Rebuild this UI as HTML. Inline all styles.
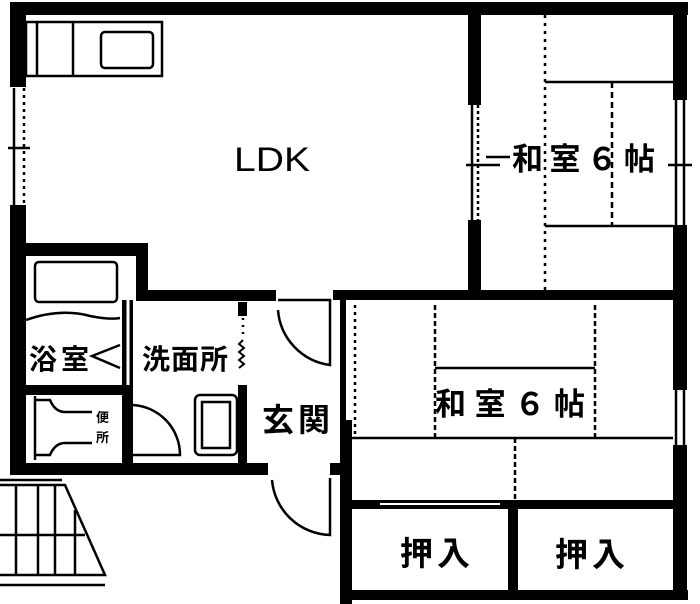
<!DOCTYPE html>
<html><head><meta charset="utf-8"><style>
html,body{margin:0;padding:0;background:#fff;width:700px;height:604px;overflow:hidden}
text{font-family:"Liberation Sans","Noto Sans CJK JP",sans-serif;font-weight:bold;fill:#000}
</style></head><body>
<svg width="700" height="604" viewBox="0 0 700 604" xmlns="http://www.w3.org/2000/svg">
<g fill="#000">
<rect x="10" y="2" width="678" height="13"/>
<rect x="10" y="2" width="16" height="85"/>
<rect x="10" y="205" width="16" height="270"/>
<rect x="673" y="2" width="14" height="98"/>
<rect x="673" y="225" width="14" height="76"/>
<rect x="673" y="300" width="14" height="90"/>
<rect x="673" y="445" width="14" height="155"/>
<rect x="468" y="15" width="13" height="90"/>
<rect x="468" y="220" width="13" height="75"/>
<rect x="136" y="290" width="140" height="11"/>
<rect x="333" y="290" width="354" height="10"/>
<rect x="10" y="243" width="138" height="13"/>
<rect x="136" y="243" width="12" height="58"/>
<rect x="122" y="300" width="11" height="165"/>
<rect x="26" y="385" width="105" height="10"/>
<rect x="10" y="463" width="258" height="12"/>
<rect x="330" y="463" width="22" height="12"/>
<rect x="238" y="385" width="9" height="80"/>
<rect x="238" y="302" width="9" height="14"/>
<rect x="340" y="420" width="12" height="184"/>
<rect x="340" y="300" width="6" height="125"/>
<rect x="352" y="500" width="321" height="9"/>
<rect x="508" y="505" width="10" height="90"/>
<rect x="340" y="590" width="348" height="10"/>
</g>
<g fill="none" stroke="#000" stroke-width="2.5">
<line x1="14" y1="88" x2="14" y2="205"/><line x1="24" y1="88" x2="24" y2="205" stroke-dasharray="3 4"/>
<line x1="8" y1="148" x2="30" y2="148"/>
<line x1="472" y1="105" x2="472" y2="220"/><line x1="478" y1="105" x2="478" y2="220" stroke-dasharray="3 3"/>
<line x1="466" y1="165" x2="500" y2="165"/>
<line x1="676" y1="100" x2="676" y2="225"/><line x1="684" y1="100" x2="684" y2="225"/>
<line x1="668" y1="165" x2="692" y2="165"/>
<line x1="676" y1="390" x2="676" y2="445"/><line x1="684" y1="390" x2="684" y2="445"/>
<line x1="18" y1="330" x2="18" y2="345"/><line x1="18" y1="418" x2="18" y2="432"/>
<rect x="26" y="22" width="136" height="54"/>
<line x1="37" y1="22" x2="37" y2="76"/><line x1="73" y1="22" x2="73" y2="76"/>
<rect x="101" y="32" width="52" height="36" rx="4"/>
<line x1="545" y1="15" x2="545" y2="290" stroke-dasharray="3 5"/>
<line x1="545" y1="82" x2="673" y2="82"/>
<line x1="545" y1="226" x2="673" y2="226"/>
<line x1="612" y1="82" x2="612" y2="226" stroke-dasharray="6 4"/>
<line x1="355" y1="305" x2="355" y2="438" stroke-dasharray="3 4"/>
<line x1="435" y1="305" x2="435" y2="438" stroke-dasharray="5 3"/>
<line x1="595" y1="305" x2="595" y2="438" stroke-dasharray="5 3"/>
<line x1="435" y1="368" x2="595" y2="368"/>
<line x1="352" y1="438" x2="673" y2="438"/>
<line x1="515" y1="438" x2="515" y2="500" stroke-dasharray="5 3"/>
<line x1="380" y1="504" x2="500" y2="504" stroke="#fff" stroke-width="2"/>
<rect x="35" y="262" width="82" height="40" rx="4"/>
<path d="M26 320 Q60 308 90 316 Q110 320 120 318"/>
<path d="M120 345 L92 356 L120 368"/>
<line x1="128" y1="300" x2="128" y2="385" stroke="#fff" stroke-width="3"/>
<path d="M35 400 L50 400 Q55 412 65 412 L92 412"/>
<path d="M35 455 L50 455 Q55 443 65 443 L92 443"/>
<line x1="35" y1="396" x2="35" y2="460"/>
<path d="M133 405 A50 50 0 0 1 180 455 L133 455"/>
<rect x="195" y="395" width="42" height="60" rx="5"/>
<rect x="202" y="402" width="28" height="46"/>
<path d="M243 340 l-4 4 l5 4 l-5 4 l5 4 l-5 4 l5 4 l-5 4" stroke-width="2"/>
<line x1="243" y1="318" x2="243" y2="338" stroke-dasharray="2 5"/>
<path d="M278 300 L330 300 L330 365 A60 60 0 0 1 278 310"/>
<path d="M272 480 A60 60 0 0 0 330 535 L330 478"/>
<line x1="275" y1="468" x2="330" y2="468" stroke="#fff" stroke-width="3"/>
<path d="M0 485 L65 485 L105 575 L0 575"/>
<path d="M0 480 L62 480"/>
<line x1="16" y1="485" x2="16" y2="575"/><line x1="38" y1="485" x2="38" y2="575"/><line x1="55" y1="485" x2="55" y2="575"/><line x1="75" y1="510" x2="75" y2="575"/>
<line x1="0" y1="535" x2="85" y2="535"/>
<line x1="0" y1="585" x2="105" y2="585"/>
</g>
<text x="234" y="171" font-size="34" style="font-weight:normal" textLength="76" lengthAdjust="spacingAndGlyphs">LDK</text>
<line x1="486" y1="157" x2="510" y2="157" stroke="#000" stroke-width="2.5"/>
<text x="512" y="170" font-size="31" textLength="143" lengthAdjust="spacing">和室６帖</text>
<text x="435" y="415" font-size="31" textLength="150" lengthAdjust="spacing">和室６帖</text>
<text x="29" y="369" font-size="28" textLength="60">浴室</text>
<text x="142" y="369" font-size="28" textLength="86">洗面所</text>
<text x="262" y="431" font-size="32" textLength="68">玄関</text>
<text x="96" y="422" font-size="13">便</text>
<text x="96" y="442" font-size="13">所</text>
<text x="400" y="565" font-size="33" textLength="70">押入</text>
<text x="555" y="566" font-size="33" textLength="70">押入</text>
</svg>
</body></html>
